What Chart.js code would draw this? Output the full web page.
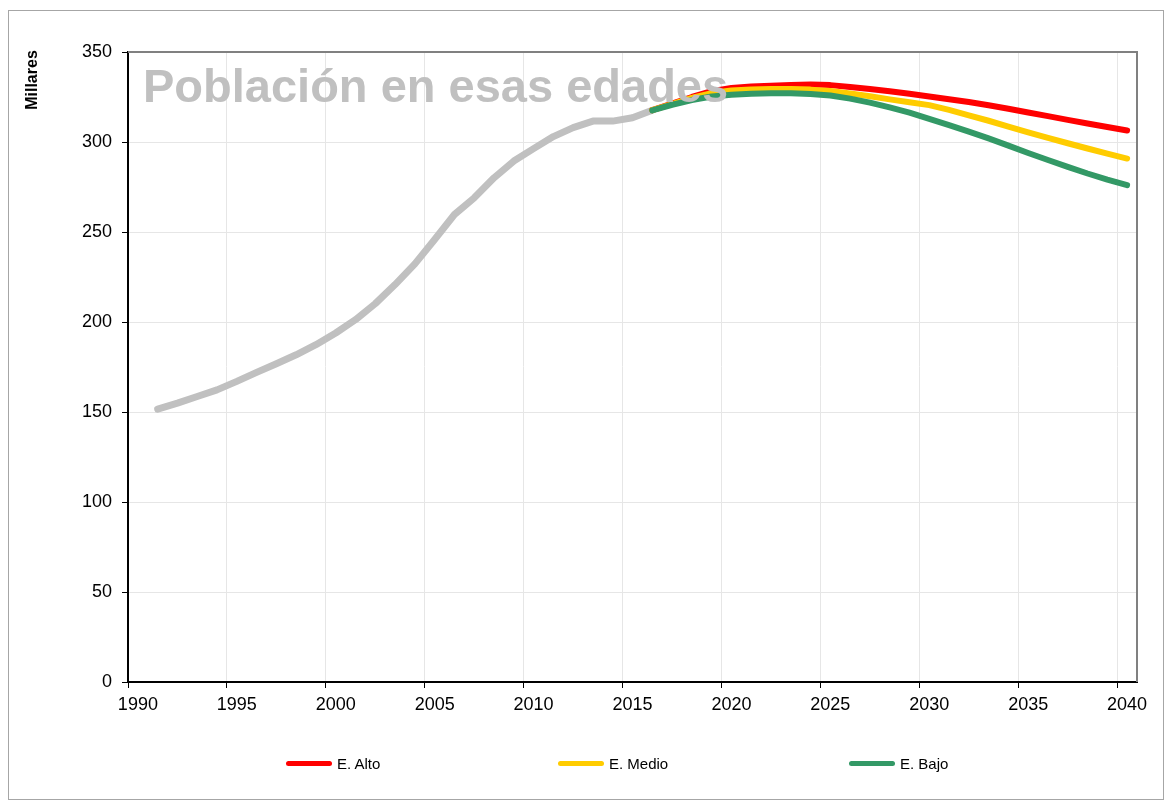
<!DOCTYPE html>
<html lang="es">
<head>
<meta charset="utf-8">
<title>Población en esas edades</title>
<script src="https://cdn.jsdelivr.net/npm/chart.js@4.4.1/dist/chart.umd.min.js"></script>
<style>
  body { margin: 0; background: #fff; font-family: "Liberation Sans", Arial, sans-serif; }
  #wrap { position: relative; width: 1169px; height: 803px; }
  #marco { position: absolute; left: 8px; top: 10px; width: 1156px; height: 790px; border: 1px solid #a6a6a6; box-sizing: border-box; }
  #titulo { position: absolute; left: 143px; top: 62px; font-size: 47px; line-height: 47px; font-weight: bold; color: #c0c0c0; white-space: nowrap; pointer-events: none; }
  #ejeY { position: absolute; left: 32px; top: 80px; transform: translate(-50%, -50%) rotate(-90deg); font-size: 16px; font-weight: bold; white-space: nowrap; }
  .leyenda { position: absolute; top: 753px; height: 20px; display: flex; align-items: center; font-size: 15px; color: #000; white-space: nowrap; }
  .leyenda span.linea { display: inline-block; width: 46px; height: 5px; border-radius: 3px; margin-right: 5px; }
</style>
</head>
<body>
<div id="wrap">
  <div id="marco"></div>
  <canvas id="grafico"></canvas>
  <div id="titulo">Población en esas edades</div>
  <div id="ejeY">Millares</div>
  <div class="leyenda" style="left:286px"><span class="linea" style="background:#ff0000"></span>E. Alto</div>
  <div class="leyenda" style="left:558px"><span class="linea" style="background:#ffcc00"></span>E. Medio</div>
  <div class="leyenda" style="left:849px"><span class="linea" style="background:#339966"></span>E. Bajo</div>
</div>
<script>
// Años del eje (categorías)
const anios = [];
for (let a = 1990; a <= 2040; a++) anios.push(String(a));

// Serie histórica 1991-2016 (miles)
const historico = [151.6, 154.9, 158.6, 162.3, 167.0, 172.0, 176.8, 181.8, 187.4, 193.9,
                   201.3, 210.2, 220.8, 232.3, 245.8, 259.7, 269.0, 280.1, 289.4, 296.3,
                   303.0, 308.0, 311.6, 311.6, 313.5, 317.6];

// Proyecciones 2016-2040
const escAlto  = [317.7, 321.3, 325.0, 328.2, 330.0, 330.8, 331.3, 331.7, 332.0, 331.6,
                  330.6, 329.5, 328.2, 326.8, 325.3, 323.8, 322.2, 320.4, 318.5, 316.4,
                  314.4, 312.3, 310.3, 308.3, 306.4];
const escMedio = [317.7, 321.1, 324.5, 327.2, 328.6, 329.2, 329.5, 329.5, 329.1, 328.3,
                  327.0, 325.4, 323.7, 322.1, 320.5, 317.8, 314.8, 311.8, 308.6, 305.4,
                  302.3, 299.3, 296.4, 293.5, 290.8];
const escBajo  = [317.6, 320.7, 323.3, 325.3, 326.3, 326.8, 327.1, 327.1, 326.7, 325.8,
                  324.1, 321.9, 319.2, 316.3, 312.9, 309.4, 305.8, 302.0, 298.0, 293.9,
                  290.0, 286.2, 282.5, 279.1, 276.0];

const marcasY = [0, 50, 100, 150, 200, 250, 300, 350];

// Coloca una serie en su año de inicio dentro del eje
function alinear(valores, anioInicio) {
    const datos = anios.map(() => null);
    const i0 = anios.indexOf(String(anioInicio));
    valores.forEach((v, i) => { datos[i0 + i] = v; });
    return datos;
}

function serie(etiqueta, datos, color, grosor, orden) {
    return {
        label: etiqueta,
        data: datos,
        borderColor: color,
        backgroundColor: color,
        borderWidth: grosor,
        borderCapStyle: 'round',
        borderJoinStyle: 'round',
        pointRadius: 0,
        tension: 0,
        spanGaps: false,
        order: orden
    };
}

// Borde gris superior y derecho del área de trazado
const bordeArea = {
    id: 'bordeArea',
    beforeDatasetsDraw(chart) {
        const { ctx, chartArea: a } = chart;
        ctx.save();
        ctx.strokeStyle = '#808080';
        ctx.lineWidth = 2;
        ctx.beginPath();
        ctx.moveTo(a.left, a.top);
        ctx.lineTo(a.right, a.top);
        ctx.lineTo(a.right, a.bottom);
        ctx.stroke();
        ctx.restore();
    }
};

const lineaGrid = '#e6e6e6';

new Chart(document.getElementById('grafico'), {
    type: 'line',
    data: {
        labels: anios,
        datasets: [
            serie('Histórico', alinear(historico, 1991), '#c0c0c0', 7, 3),
            serie('E. Alto', alinear(escAlto, 2016), '#ff0000', 6, 2),
            serie('E. Medio', alinear(escMedio, 2016), '#ffcc00', 6, 1),
            serie('E. Bajo', alinear(escBajo, 2016), '#339966', 6, 0)
        ]
    },
    options: {
        responsive: true,
        maintainAspectRatio: false,
        animation: false,
        layout: { padding: { top: 52, right: 32, bottom: 91, left: 0 } },
        plugins: { legend: { display: false }, tooltip: { enabled: false } },
        scales: {
            x: {
                type: 'category',
                offset: true,
                grid: {
                    offset: true,
                    color: (c) => (c.index % 5 === 0 ? lineaGrid : 'transparent'),
                    tickColor: (c) => (c.index % 5 === 0 ? '#000' : 'transparent'),
                    tickLength: 6
                },
                border: { color: '#000', width: 2 },
                ticks: {
                    autoSkip: false,
                    maxRotation: 0,
                    padding: 6,
                    color: '#000',
                    font: { family: 'Liberation Sans', size: 18 },
                    callback: (v, i) => (Number(anios[i]) % 5 === 0 ? anios[i] : '')
                },
                afterFit: (s) => { s.height = 30; }
            },
            y: {
                min: 0,
                max: 350,
                afterBuildTicks: (s) => { s.ticks = marcasY.map((v) => ({ value: v })); },
                grid: { color: lineaGrid, tickColor: '#000', tickLength: 6 },
                border: { color: '#000', width: 2 },
                ticks: {
                    padding: 10,
                    color: '#000',
                    font: { family: 'Liberation Sans', size: 18 }
                },
                afterFit: (s) => { s.width = 128; }
            }
        }
    },
    plugins: [bordeArea]
});
</script>
</body>
</html>
